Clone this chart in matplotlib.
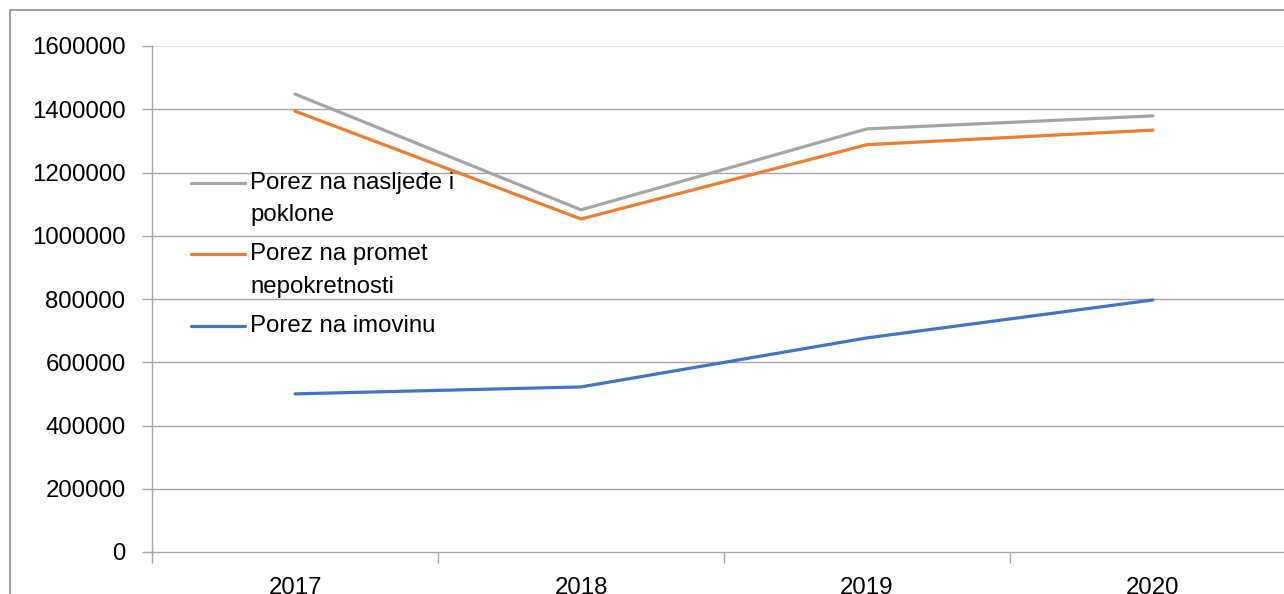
import matplotlib
matplotlib.use("Agg")
import matplotlib.pyplot as plt
from matplotlib.patches import Rectangle
from matplotlib.lines import Line2D

years = ["2017", "2018", "2019", "2020"]
nasljedje = [1448000, 1082000, 1338000, 1379000]
promet = [1394000, 1053000, 1288000, 1334000]
imovina = [500000, 522000, 677000, 797000]
yticks = [0, 200000, 400000, 600000, 800000, 1000000, 1200000, 1400000, 1600000]

series = [
    (["Porez na nasljeđe i", "poklone"], nasljedje, "#a5a5a5"),
    (["Porez na promet", "nepokretnosti"], promet, "#ed7d31"),
    (["Porez na imovinu"], imovina, "#4472c4"),
]

plt.rcParams['font.family'] = ['Liberation Sans', 'DejaVu Sans']
W, H = 1284, 594
fig = plt.figure(figsize=(W / 100, H / 100), dpi=100)

# axes placement in pixels
left, right, top, bottom = 152, 1296, 46, 552
ax = fig.add_axes([left / W, 1 - bottom / H, (right - left) / W, (bottom - top) / H])

x = list(range(len(years)))
for labels, vals, color in series:
    ax.plot(x, vals, color=color, lw=2.3, solid_capstyle='round', zorder=3)

ax.set_xlim(-0.5, len(years) - 0.5)
ax.set_ylim(0, 1600000)

ax.set_yticks(yticks)
ax.set_yticklabels([str(v) for v in yticks], fontsize=17.3)
ax.tick_params(axis='y', length=7, width=1, color='#a6a6a6', pad=12)

ax.set_xticks(x)
ax.set_xticklabels(years, fontsize=17.3)
ax.tick_params(axis='x', which='major', length=0, pad=18)
ax.set_xticks([i - 0.5 for i in range(len(years) + 1)], minor=True)
ax.tick_params(axis='x', which='minor', length=8, width=1, color='#a6a6a6')

for v in yticks[1:-1]:
    ax.axhline(v, color='#a6a6a6', lw=1, zorder=1)
ax.axhline(yticks[-1], color='#dde3ef', lw=1.5, zorder=1)

for s in ['top', 'right']:
    ax.spines[s].set_visible(False)
for s in ['left', 'bottom']:
    ax.spines[s].set_color('#a6a6a6')
    ax.spines[s].set_linewidth(1)

# manual legend
def ax_xy(px, py):
    return (px - left) / (right - left), (bottom - py) / (bottom - top)

leg_rows = [[183, 215], [254, 287], [326]]
for (labels, vals, color), rows in zip(series, leg_rows):
    x0, y0 = ax_xy(191, rows[0])
    x1, _ = ax_xy(245, rows[0])
    ax.add_line(Line2D([x0, x1], [y0, y0], transform=ax.transAxes, color=color,
                       lw=2.3, solid_capstyle='round', zorder=4))
    for lab, py in zip(labels, rows):
        tx, ty = ax_xy(250, py)
        ax.text(tx, ty, lab, transform=ax.transAxes, fontsize=17.3, va='center',
                ha='left', color='black', zorder=4)

# outer chart border
fig.patches.append(Rectangle((10 / W, -0.2), 1.2, 1 - 10 / H + 0.2,
                             transform=fig.transFigure, fill=False,
                             edgecolor='#8c8c8c', lw=1.2))

fig.savefig("out.png", dpi=100)
